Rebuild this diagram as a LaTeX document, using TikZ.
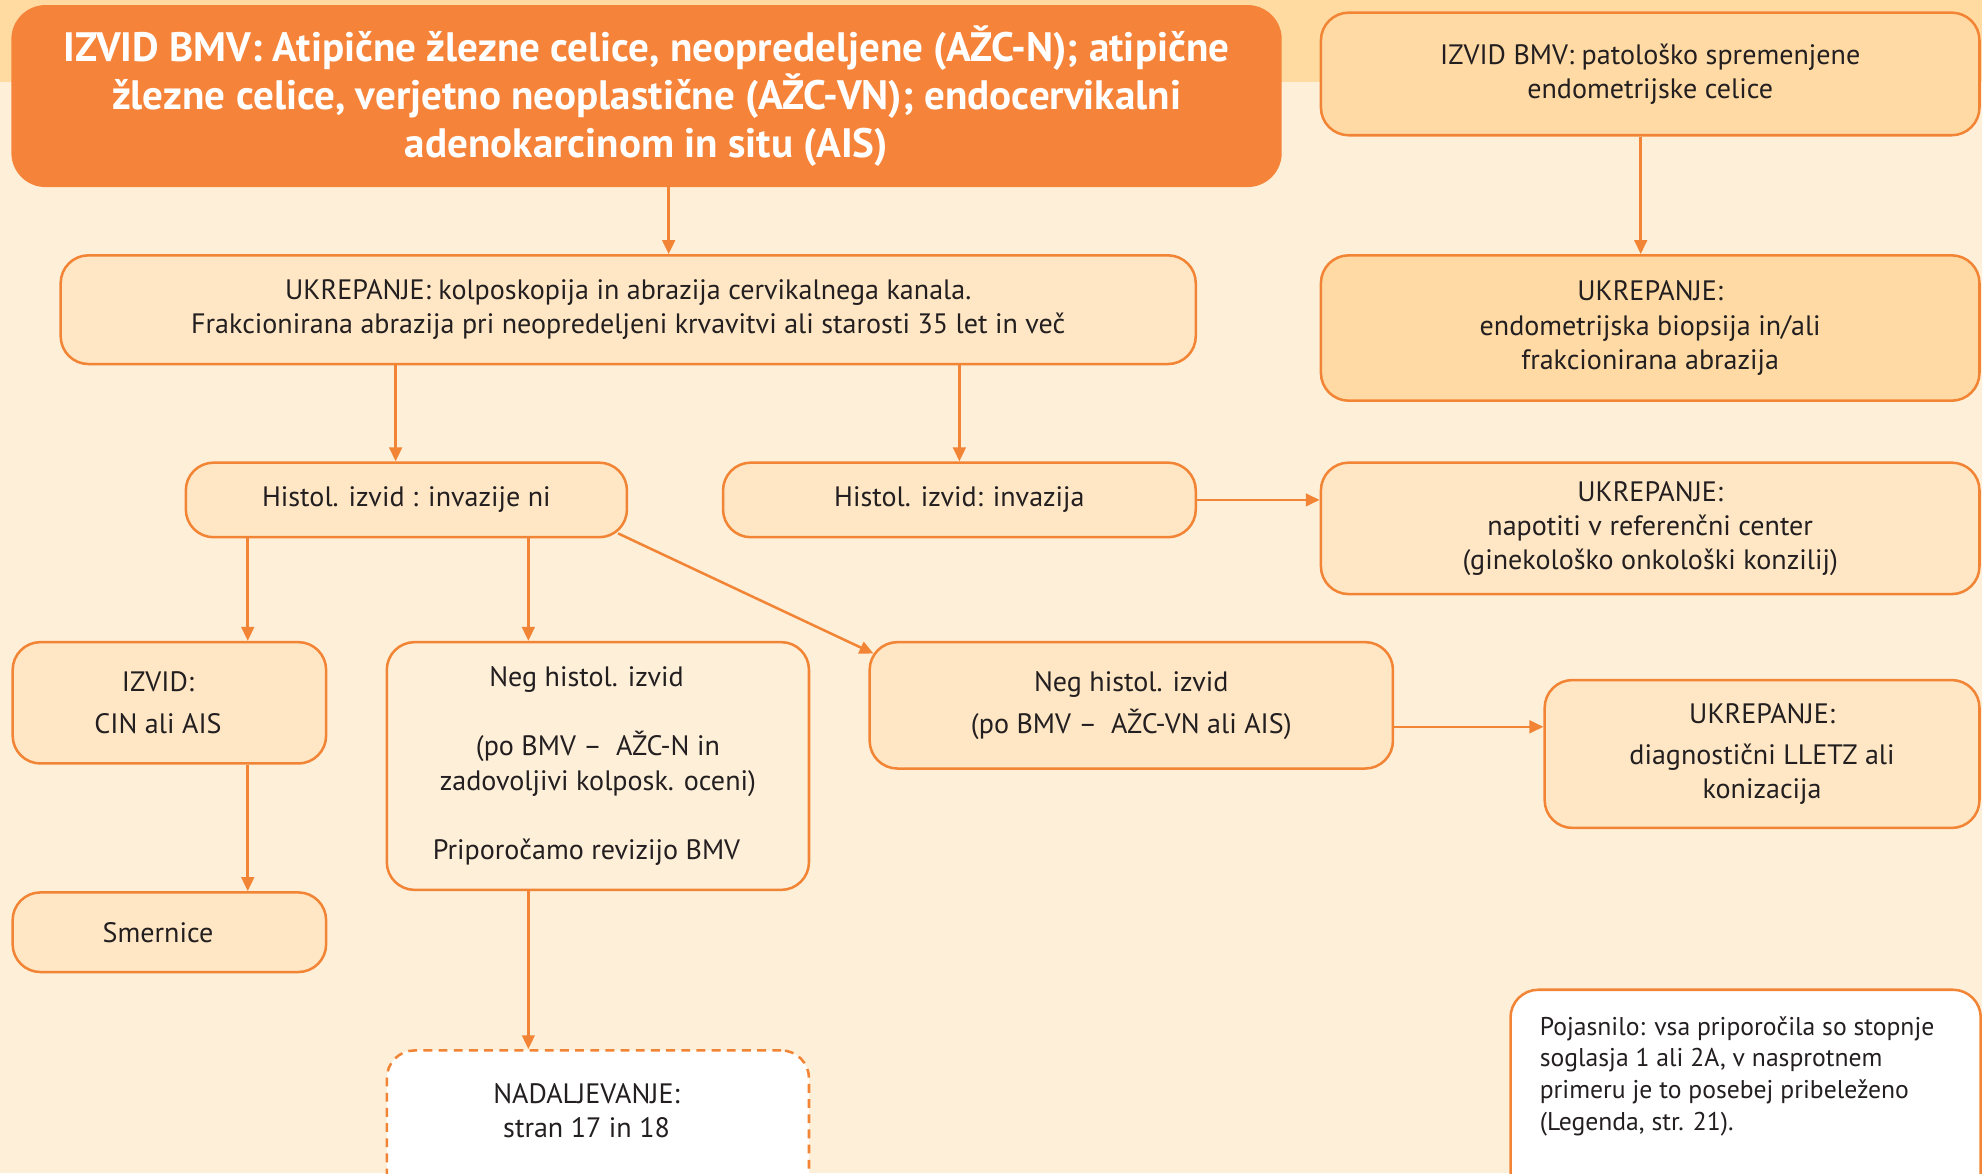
\documentclass[tikz,border=0pt]{standalone}
\usepackage{fontspec}
\setmainfont{PT Sans}
\usetikzlibrary{arrows.meta}
\definecolor{bg}{HTML}{FEEFD9}
\definecolor{band}{HTML}{FFDBA2}
\definecolor{lightbox}{HTML}{FFE7C5}
\definecolor{darkbox}{HTML}{FFDAA4}
\definecolor{bord}{HTML}{F28535}
\definecolor{titlefill}{HTML}{F5843A}
\definecolor{txt}{HTML}{231F20}
\begin{document}
\begin{tikzpicture}[x=1pt,y=-1pt,
  box/.style={draw=bord, line width=2pt, rounded corners=22pt, align=center, inner sep=0pt, text=txt, font=\fontsize{22.2}{27}\selectfont},
  lbox/.style={box, fill=lightbox},
  dbox/.style={box, fill=darkbox},
  conn/.style={draw=bord, line width=2pt, -{Triangle[length=11pt,width=10pt]}},
  bodytxt/.style={text=txt, align=center, inner sep=0pt, font=\fontsize{22.2}{27}\selectfont}]
\useasboundingbox (0,0) rectangle (1568,928);
\fill[bg] (0,0) rectangle (1568,928);
\fill[band] (0,0) rectangle (1568,65);

\node[box, fill=titlefill, draw=titlefill, rounded corners=26pt, text=white, minimum width=1003, minimum height=142,
  font=\fontsize{32.5}{38}\selectfont\bfseries] (title) at (511.5,76)
  {IZVID BMV: Atipične žlezne celice, neopredeljene (AŽC-N); atipične\\
   žlezne celice, verjetno neoplastične (AŽC-VN); endocervikalni\\
   adenokarcinom in situ (AIS)};

\node[dbox, minimum width=521, minimum height=97] (endo) at (1305.5,58.5)
  {IZVID BMV: patološko spremenjene\\endometrijske celice};

\node[lbox, minimum width=898, minimum height=86] (ukr) at (497,245)
  {UKREPANJE: kolposkopija in abrazija cervikalnega kanala.\\
   Frakcionirana abrazija pri neopredeljeni krvavitvi ali starosti 35 let in več};

\node[dbox, minimum width=521, minimum height=115] (ukrendo) at (1305.5,259.5)
  {UKREPANJE:\\endometrijska biopsija in/ali\\frakcionirana abrazija};

\node[lbox, minimum width=349, minimum height=59] (hni) at (321.5,395.5)
  {Histol. izvid : invazije ni};

\node[lbox, minimum width=374, minimum height=59] (hinv) at (759,395.5)
  {Histol. izvid: invazija};

\node[lbox, minimum width=521, minimum height=104] (napot) at (1305.5,418)
  {UKREPANJE:\\napotiti v referenčni center\\(ginekološko onkološki konzilij)};

\node[lbox, minimum width=248, minimum height=96, font=\fontsize{22.2}{33}\selectfont] (cin) at (134,556)
  {IZVID:\hspace*{18pt}\\CIN ali AIS\hspace*{18pt}};

\node[box, fill=bg, minimum width=334, minimum height=196, font=\fontsize{22.2}{27.5}\selectfont] (negn) at (473,606)
  {Neg histol. izvid\hspace*{18pt}\\[27.5pt](po BMV --\enspace AŽC-N in\hspace*{18pt}\\zadovoljivi kolposk. oceni)\hspace*{18pt}\\[27.5pt]Priporočamo revizijo BMV\hspace*{18pt}};

\node[lbox, minimum width=414, minimum height=100, font=\fontsize{22.2}{33}\selectfont] (negvn) at (895,558)
  {Neg histol. izvid\\(po BMV --\enspace AŽC-VN ali AIS)};

\node[lbox, minimum width=344, minimum height=117] (lletz) at (1394,596.5)
  {UKREPANJE:\\[6pt]diagnostični LLETZ ali\\konizacija};

\node[lbox, minimum width=248, minimum height=63] (smer) at (134,737.5)
  {Smernice\hspace*{18pt}};

\node[box, fill=white, dashed, dash pattern=on 7pt off 5pt, minimum width=334, minimum height=140, anchor=north] (nad) at (473,830) {};
\node[bodytxt] (nadtxt) at (464,879) {NADALJEVANJE:\\stran 17 in 18};

\node[box, fill=white, minimum width=372, minimum height=170, anchor=north west] (poj) at (1194,782) {};
\node[text=txt, align=left, inner sep=0pt, anchor=north west, font=\fontsize{20.3}{25}\selectfont] (pojtxt) at (1218,804)
  {Pojasnilo: vsa priporočila so stopnje\\soglasja 1 ali 2A, v nasprotnem\\primeru je to posebej pribeleženo\\(Legenda, str. 21).};

% connectors
\draw[conn] ([xshift=17.5pt]title.south) -- ([xshift=17.5pt]title.south |- ukr.north);
\draw[conn] ([xshift=-7.5pt]endo.south) -- ([xshift=-7.5pt]ukrendo.north);
\draw[conn] ([xshift=-8.5pt]hni.north |- ukr.south) -- ([xshift=-8.5pt]hni.north);
\draw[conn] (hinv.north |- ukr.south) -- (hinv.north);
\draw[conn] (hinv.east) -- (hinv.east -| napot.west);
\draw[conn] ([xshift=62pt]cin.north |- hni.south) -- ([xshift=62pt]cin.north);
\draw[conn] ([xshift=-55pt]negn.north |- hni.south) -- ([xshift=-55pt]negn.north);
\draw[conn] ([xshift=-8pt,yshift=4pt]hni.south east) -- ([xshift=4pt,yshift=-10pt]negvn.north west);
\draw[conn] ([yshift=-17pt]negvn.east) -- ([yshift=-17pt]negvn.east -| lletz.west);
\draw[conn] ([xshift=62pt]cin.south) -- ([xshift=62pt]smer.north);
\draw[conn] ([xshift=-55pt]negn.south) -- ([xshift=-55pt]negn.south |- nad.north);
\end{tikzpicture}
\end{document}
